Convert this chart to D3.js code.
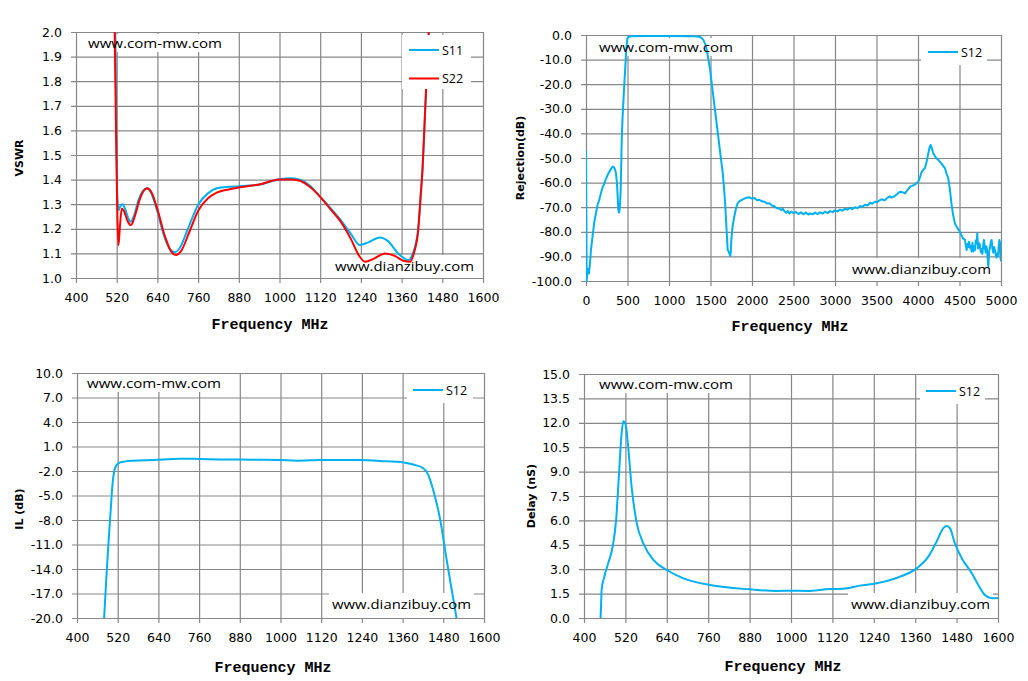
<!DOCTYPE html>
<html><head><meta charset="utf-8">
<script src="https://cdn.jsdelivr.net/npm/d3@7/dist/d3.min.js"></script>
<style>
html,body{margin:0;padding:0;background:#fff;}
svg{display:block;}
</style></head>
<body>
<script>
// ---------- DATA ----------
const freqTicks = [400,520,640,760,880,1000,1120,1240,1360,1480,1600];
const vswrTicks = [1.0,1.1,1.2,1.3,1.4,1.5,1.6,1.7,1.8,1.9,2.0];
const rejFreqTicks = [0,500,1000,1500,2000,2500,3000,3500,4000,4500,5000];
const rejTicks = [0,-10,-20,-30,-40,-50,-60,-70,-80,-90,-100];
const ilTicks = [10,7,4,1,-2,-5,-8,-11,-14,-17,-20];
const delayTicks = [15,13.5,12,10.5,9,7.5,6,4.5,3,1.5,0];

const s11Vswr = [[516,2.0],[519,1.6],[522,1.32],[526,1.276],[530,1.29],[537,1.30],[545,1.28],[555,1.24],[562,1.229],[570,1.25],[585,1.32],[598,1.355],[608,1.365],[620,1.35],[640,1.27],[660,1.17],[678,1.115],[692,1.105],[705,1.12],[730,1.20],[761,1.30],[790,1.345],[815,1.365],[850,1.371],[884,1.373],[940,1.38],[1000,1.401],[1030,1.405],[1060,1.40],[1090,1.375],[1120,1.33],[1150,1.285],[1180,1.236],[1210,1.18],[1237,1.134],[1262,1.145],[1296,1.165],[1320,1.15],[1350,1.10],[1380,1.073],[1392,1.095],[1400,1.13],[1409,1.2],[1416,1.33],[1422,1.45],[1430,1.7],[1440,2.0]];
const s22Vswr = [[514,2.0],[518,1.6],[522,1.25],[525,1.133],[529,1.2],[535,1.283],[542,1.27],[552,1.232],[562,1.215],[572,1.245],[588,1.32],[600,1.355],[610,1.365],[622,1.35],[642,1.27],[662,1.17],[682,1.105],[695,1.093],[710,1.11],[735,1.19],[761,1.275],[790,1.325],[815,1.347],[850,1.36],[884,1.369],[940,1.38],[1000,1.40],[1030,1.40],[1060,1.395],[1090,1.37],[1120,1.33],[1150,1.28],[1180,1.23],[1210,1.16],[1235,1.09],[1252,1.066],[1280,1.08],[1311,1.10],[1340,1.09],[1365,1.07],[1385,1.066],[1396,1.1],[1409,1.195],[1416,1.33],[1422,1.45],[1430,1.7],[1440,2.0]];

const s12Rej = [[0,-47],[8,-100],[15,-97],[25,-95],[35,-97],[45,-94],[60,-87.4],[75,-83],[88,-79.3],[100,-76],[120,-72.5],[140,-69],[160,-67],[175,-65],[190,-63],[205,-61.5],[221,-60.3],[235,-59],[250,-57.8],[265,-56.6],[281,-55.6],[300,-54.5],[321,-53.5],[333,-53.6],[343,-54.2],[353,-55],[360,-56.2],[365,-57.5],[373,-60.3],[382,-66],[390,-71.2],[396,-72.2],[402,-71.8],[410,-69],[418,-63],[425,-52],[430,-42.7],[440,-34],[455,-24],[470,-15],[485,-6],[498,-1.5],[515,-0.8],[540,-0.5],[700,-0.4],[1000,-0.4],[1300,-0.5],[1360,-0.7],[1390,-1.1],[1414,-2],[1440,-4],[1454,-6],[1475,-10],[1494,-14],[1520,-21],[1554,-30.5],[1585,-39],[1614,-47],[1647,-56],[1665,-63],[1679,-69.8],[1695,-80],[1707,-87.4],[1718,-88],[1727,-88.8],[1739,-89.8],[1745,-88],[1751,-83.3],[1765,-78],[1787,-73.8],[1807,-70.5],[1827,-68.4],[1850,-67.5],[1888,-66.8],[1930,-66.2],[1968,-66],[2000,-66.5],[2030,-66.3],[2060,-67.2],[2088,-67],[2120,-67.6],[2150,-67.8],[2180,-68.5],[2209,-68.4],[2240,-69.3],[2270,-69.6],[2300,-70.4],[2329,-70.5],[2350,-71.2],[2370,-70.6],[2390,-71.6],[2410,-72.3],[2430,-71.5],[2450,-72.6],[2470,-71.8],[2500,-72.4],[2530,-71.9],[2560,-72.8],[2590,-72.1],[2620,-72.9],[2650,-72.2],[2680,-73],[2700,-72.5],[2730,-72.9],[2760,-72.2],[2790,-72.8],[2820,-72.1],[2850,-72.6],[2880,-71.8],[2910,-72.4],[2940,-71.6],[2970,-72],[3000,-71.3],[3030,-71.7],[3060,-71],[3090,-71.4],[3120,-70.6],[3150,-71],[3180,-70.3],[3210,-70.8],[3240,-70],[3270,-70.4],[3301,-69.5],[3330,-69.9],[3360,-69],[3390,-69.3],[3422,-68.2],[3450,-68.6],[3480,-67.8],[3510,-67.9],[3542,-67.1],[3570,-66.8],[3600,-67.2],[3630,-66.2],[3660,-65.6],[3680,-66.1],[3703,-65.8],[3730,-65.2],[3760,-64.3],[3783,-63.7],[3810,-63.9],[3843,-64.4],[3870,-63.2],[3904,-61.7],[3930,-61.3],[3960,-60.8],[3985,-60.2],[4004,-59.6],[4025,-57.8],[4044,-55.6],[4065,-54.7],[4084,-54.2],[4104,-51.5],[4124,-48.1],[4140,-45.6],[4152,-44.7],[4165,-45.8],[4184,-48.1],[4210,-49.6],[4245,-50.8],[4285,-52.4],[4325,-54.2],[4345,-56.5],[4365,-58.3],[4385,-63],[4405,-69.1],[4425,-73.5],[4445,-76.6],[4475,-78.5],[4505,-80],[4525,-81.5],[4545,-82.8],[4566,-83.3],[4576,-85.5],[4586,-87.4],[4596,-85],[4606,-86.2],[4616,-84],[4626,-86.5],[4636,-85.8],[4646,-88],[4656,-84.5],[4666,-88],[4676,-86],[4686,-87.5],[4696,-83.5],[4706,-84.8],[4714,-80.6],[4724,-86.8],[4734,-84.6],[4746,-85.3],[4756,-88.3],[4766,-87],[4776,-89],[4786,-85.5],[4794,-83.3],[4806,-86.5],[4816,-88.4],[4826,-86],[4836,-89.2],[4847,-94.2],[4857,-88],[4867,-86.3],[4877,-84.2],[4887,-83.3],[4897,-86.8],[4907,-88.5],[4917,-86.2],[4927,-87.4],[4937,-89.4],[4947,-90.5],[4955,-88.8],[4965,-89.8],[4972,-86],[4980,-83.3],[4988,-84.5],[4996,-91],[5000,-92]];

const s12IL = [[480,-20],[486,-15.5],[492,-11.3],[499,-7],[505,-3.5],[512,-1.67],[522,-1.06],[540,-0.85],[566,-0.74],[625,-0.65],[704,-0.49],[761,-0.53],[820,-0.58],[880,-0.6],[940,-0.62],[998,-0.65],[1048,-0.74],[1120,-0.65],[1180,-0.64],[1237,-0.65],[1293,-0.78],[1352,-0.9],[1391,-1.2],[1421,-1.67],[1436,-2.5],[1450,-4.3],[1471,-8],[1490,-12.9],[1505,-16.6],[1519,-20]];

const s12Delay = [[448,0],[450,1.1],[451,1.72],[459,2.54],[470,3.36],[483,4.38],[493,6.0],[501,8.69],[509,11.35],[514,12.1],[521,11.86],[528,10.53],[538,8.07],[553,5.82],[572,4.59],[601,3.57],[640,2.95],[688,2.44],[765,2.03],[881,1.76],[958,1.66],[1002,1.68],[1045,1.66],[1113,1.78],[1151,1.8],[1200,1.99],[1248,2.13],[1316,2.54],[1364,3.05],[1398,3.77],[1422,4.69],[1441,5.51],[1451,5.66],[1461,5.51],[1475,4.59],[1495,3.67],[1524,2.75],[1543,2.03],[1562,1.41],[1582,1.21],[1600,1.23]];

// ---------- DRAW ----------
const BLUE = '#00b0f0', RED = '#ff0000', GRID = '#878787';
const svg = d3.select('body').append('svg').attr('width',1028).attr('height',681);

const charts = [
  {l:76,r:483,t:32,b:278, xd:[400,1600], yd:[1,2], xt:freqTicks, yt:vswrTicks,
   series:[{d:s11Vswr,c:BLUE,n:'S11'},{d:s22Vswr,c:RED,n:'S22'}], smooth:true,
   yTitle:'VSWR', yTx:19, yTy:158, xTx:270, xTy:329,
   wm1:[88,48], wm2:[335,271], leg:{x:402,y:35,w:69,h:54,lx:409,ly:50,dy:28.5}},
  {l:586,r:1001,t:35,b:281, xd:[0,5000], yd:[-100,0], xt:rejFreqTicks, yt:rejTicks,
   series:[{d:s12Rej,c:BLUE,n:'S12'}], smooth:false,
   yTitle:'Rejection(dB)', yTx:520, yTy:158, xTx:790, xTy:331,
   wm1:[599,52], wm2:[852,274], leg:{x:921,y:36,w:66,h:29,lx:928,ly:52}},
  {l:77,r:484,t:373,b:618, xd:[400,1600], yd:[-20,10], xt:freqTicks, yt:ilTicks,
   series:[{d:s12IL,c:BLUE,n:'S12'}], smooth:true,
   yTitle:'IL (dB)', yTx:19, yTy:509, xTx:273, xTy:672,
   wm1:[87,388], wm2:[332,609], leg:{x:407,y:374,w:66,h:29,lx:413,ly:390}},
  {l:584,r:998,t:374,b:618, xd:[400,1600], yd:[0,15], xt:freqTicks, yt:delayTicks,
   series:[{d:s12Delay,c:BLUE,n:'S12'}], smooth:true,
   yTitle:'Delay (nS)', yTx:531, yTy:496, xTx:783, xTy:671,
   wm1:[599,389], wm2:[851,609], leg:{x:920,y:375,w:65,h:29,lx:926,ly:391}}
];

const tickFont = '"DejaVu Sans", Verdana, sans-serif';
const textFont = '"Open Sans", sans-serif';

charts.forEach((c,i) => {
  const g = svg.append('g');
  const x = d3.scaleLinear().domain(c.xd).range([c.l,c.r]);
  const y = d3.scaleLinear().domain(c.yd).range([c.b,c.t]);
  const h = c.b - c.t, w = c.r - c.l;

  const xa = g.append('g').attr('transform',`translate(0,${c.b+5})`)
    .call(d3.axisBottom(x).tickValues(c.xt).tickSize(-(h+5)).tickPadding(10).tickFormat(d3.format('d')));
  const ya = g.append('g').attr('transform',`translate(${c.l-5},0)`)
    .call(d3.axisLeft(y).tickValues(c.yt).tickSize(-(w+5)).tickPadding(9).tickFormat(d => d.toFixed(1)));
  [xa,ya].forEach(a => {
    a.select('.domain').remove();
    a.selectAll('line').attr('stroke',GRID).attr('stroke-width',1.2);
    a.selectAll('text').attr('font-family',tickFont).attr('font-size',12.5).attr('fill','#000');
  });

  const wmTexts = [{t:'www.com-mw.com',p:c.wm1,len:134,top:true},{t:'www.dianzibuy.com',p:c.wm2,len:139,top:false}];
  wmTexts.forEach(wm => {
    const by = wm.top ? wm.p[1]-14 : wm.p[1]-16;
    const bh = wm.top ? 18 : (c.b - by);
    g.append('rect').attr('x',wm.p[0]-3).attr('y',by).attr('width',wm.len+6).attr('height',bh).attr('fill','#fff');
  });

  const clipId = 'clip'+i;
  svg.append('clipPath').attr('id',clipId).append('rect')
    .attr('x',c.l).attr('y',c.t-1).attr('width',w).attr('height',h+2);
  const line = d3.line().x(d=>x(d[0])).y(d=>y(d[1])).curve(c.smooth ? d3.curveMonotoneX : d3.curveLinear);
  c.series.forEach(s => {
    g.append('path').attr('d',line(s.d)).attr('fill','none').attr('stroke',s.c)
      .attr('stroke-width',2).attr('stroke-linejoin','round').attr('clip-path',`url(#${clipId})`);
  });

  wmTexts.forEach(wm => {
    g.append('text').attr('x',wm.p[0]).attr('y',wm.p[1]).text(wm.t)
      .attr('font-family',textFont).attr('font-size',13).attr('fill','#000')
      .attr('textLength',wm.len).attr('lengthAdjust','spacingAndGlyphs');
  });

  const L = c.leg;
  g.append('rect').attr('x',L.x).attr('y',L.y).attr('width',L.w).attr('height',L.h).attr('fill','#fff');
  c.series.forEach((s,k) => {
    const ly = L.ly + k*(L.dy||0);
    g.append('line').attr('x1',L.lx).attr('x2',L.lx+30).attr('y1',ly).attr('y2',ly)
      .attr('stroke',s.c).attr('stroke-width',2);
    g.append('text').attr('x',L.lx+33).attr('y',ly+4.5).text(s.n)
      .attr('font-family',textFont).attr('font-size',12.5).attr('fill','#000');
  });

  g.append('text').attr('x',c.xTx).attr('y',c.xTy).attr('text-anchor','middle').text('Frequency MHz')
    .attr('font-family','"Liberation Mono", "DejaVu Sans Mono", monospace').attr('font-weight','bold')
    .attr('font-size',15).attr('fill','#000');
  g.append('text').attr('transform',`translate(${c.yTx},${c.yTy}) rotate(-90)`)
    .attr('text-anchor','middle').attr('dominant-baseline','central').text(c.yTitle)
    .attr('font-family','"DejaVu Sans", sans-serif').attr('font-weight','bold')
    .attr('font-size',11).attr('fill','#000');
});
</script>
</body></html>
